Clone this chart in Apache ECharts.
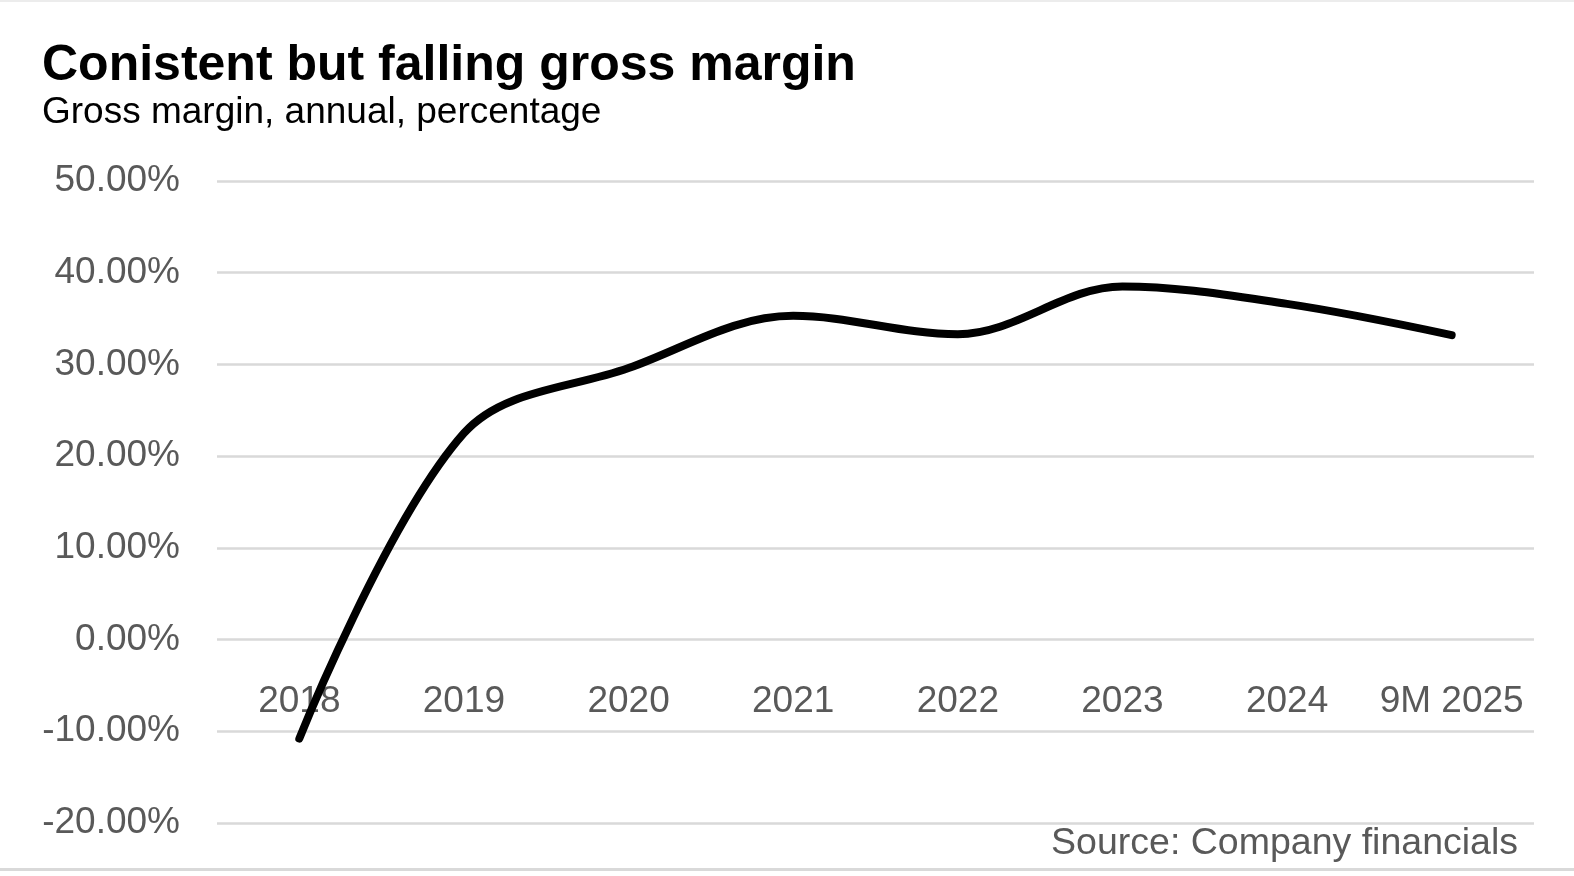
<!DOCTYPE html>
<html>
<head>
<meta charset="utf-8">
<script src="https://cdn.jsdelivr.net/npm/echarts@6/dist/echarts.min.js"></script>
<style>
html,body{margin:0;padding:0;background:#fff;overflow:hidden;}
#chart{width:100vw;height:100vh;}
</style>
</head>
<body>
<div id="chart"></div>
<script>
const categories = ['2018','2019','2020','2021','2022','2023','2024','9M 2025'];
const grossMargin = [-10.8, 22.5, 29.6, 35.3, 33.3, 38.5, 36.6, 33.2];
const yTicks = {min: -20, max: 50, interval: 10};
const titleText = 'Conistent but falling gross margin';
const subtitleText = 'Gross margin, annual, percentage';
const sourceText = 'Source: Company financials';

const FONT = '"Liberation Sans", Arial, sans-serif';
const el = document.getElementById('chart');
const chart = echarts.init(el);
const H = el.clientHeight;
const gridTop = 181, gridBottom = 53;
const gridH = H - gridTop - gridBottom;
// shift the category axis up to the zero line of the value axis
const zeroOffset = -gridH * (0 - yTicks.min) / (yTicks.max - yTicks.min);

chart.setOption({
  backgroundColor: '#fff',
  animation: false,
  title: [
    {text: titleText, left: 42, top: 41, padding: 0, textStyle: {fontFamily: FONT, fontSize: 50, fontWeight: 'bold', color: '#000'}},
    {text: subtitleText, left: 42, top: 94, padding: 0, textStyle: {fontFamily: FONT, fontSize: 37, fontWeight: 'normal', color: '#000'}},
    {text: sourceText, right: 56, top: 825, padding: 0, textStyle: {fontFamily: FONT, fontSize: 37.5, fontWeight: 'normal', color: '#595959'}}
  ],
  graphic: [
    {type: 'rect', shape: {x: 0, y: 0, width: 1574, height: 2}, style: {fill: '#ececec'}},
    {type: 'rect', shape: {x: 0, y: 868, width: 1574, height: 3}, style: {fill: '#d9d9d9'}}
  ],
  grid: {left: 217, right: 40, top: gridTop, bottom: gridBottom, containLabel: false, outerBoundsMode: 'none'},
  xAxis: {
    type: 'category',
    data: categories,
    boundaryGap: true,
    offset: zeroOffset,
    axisLine: {show: false, onZero: false},
    axisTick: {show: false},
    splitLine: {show: false},
    axisLabel: {fontFamily: FONT, fontSize: 37, color: '#595959', margin: 44, interval: 0}
  },
  yAxis: {
    type: 'value',
    min: yTicks.min, max: yTicks.max, interval: yTicks.interval,
    axisLine: {show: false},
    axisTick: {show: false},
    splitLine: {lineStyle: {color: '#d9d9d9', width: 2.5}},
    axisLabel: {fontFamily: FONT, fontSize: 37, color: '#595959', margin: 37, padding: [5, 0, 0, 0],
      formatter: v => v.toFixed(2) + '%'}
  },
  series: [{
    type: 'line',
    data: grossMargin,
    smooth: 0.35,
    symbol: 'none',
    lineStyle: {color: '#000', width: 8, cap: 'round', join: 'round'}
  }]
});
</script>
</body>
</html>
